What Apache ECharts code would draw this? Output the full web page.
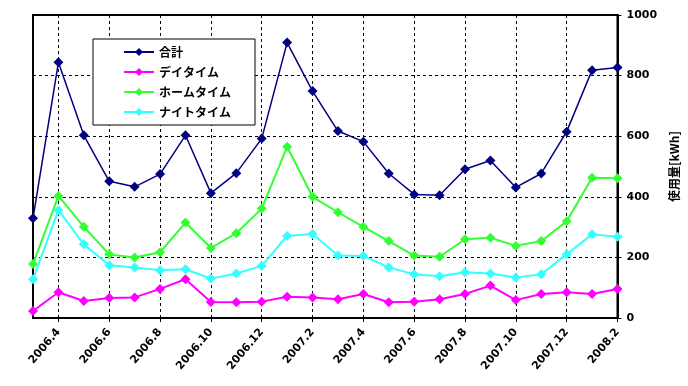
<!DOCTYPE html>
<html><head><meta charset="utf-8">
<script src="https://cdn.jsdelivr.net/npm/echarts@6/dist/echarts.min.js"></script>
<style>html,body{margin:0;padding:0;background:#fff}#c{width:688px;height:386px}</style>
</head><body><div id="c"></div>
<script>
var months = ['2006.3','2006.4','2006.5','2006.6','2006.7','2006.8','2006.9','2006.10','2006.11','2006.12','2007.1','2007.2','2007.3','2007.4','2007.5','2007.6','2007.7','2007.8','2007.9','2007.10','2007.11','2007.12','2008.1','2008.2'];
var total = [329,844,603,451,433,475,603,412,478,592,909,749,617,582,477,408,405,491,520,431,477,615,818,827];
var daytime = [23,85,56,66,68,96,128,53,52,54,70,68,62,79,52,54,62,79,107,59,79,85,79,96];
var hometime = [178,403,301,210,200,217,315,231,280,361,565,400,349,301,254,206,202,260,265,238,254,319,463,461];
var nighttime = [128,356,243,174,167,158,161,130,147,172,271,277,206,205,167,144,138,151,147,134,144,210,276,268];
var yTicks = [0,200,400,600,800,1000];

var font = '"Noto Sans CJK JP", "DejaVu Sans", sans-serif';
var numFont = '"DejaVu Sans", sans-serif';
var odd = function (i) { return i % 2 === 1; };
function mk(name, data, color, w) {
  return {
    name: name, type: 'line', data: data, yAxisIndex: 0,
    symbol: 'diamond', symbolSize: 10, showSymbol: true,
    lineStyle: { color: color, width: w },
    itemStyle: { color: color },
    emphasis: { disabled: true }
  };
}
var chart = echarts.init(document.getElementById('c'), null, { renderer: 'canvas' });
chart.setOption({
  animation: false,
  backgroundColor: '#fff',
  grid: { left: 33, right: 63, top: 15, bottom: 68, show: true, borderColor: '#000', borderWidth: 2, backgroundColor: '#fff' },
  legend: {
    orient: 'vertical', left: 93, top: 39,
    padding: [7, 24, 7, 30], itemGap: 8, itemWidth: 30, itemHeight: 10,
    backgroundColor: '#fff', borderColor: '#000', borderWidth: 1,
    textStyle: { fontFamily: font, fontWeight: 'bold', fontSize: 12, color: '#000' },
    data: ['合計', 'デイタイム', 'ホームタイム', 'ナイトタイム']
  },
  xAxis: {
    type: 'category', data: months, boundaryGap: false,
    axisLine: { lineStyle: { color: '#000', width: 2 } },
    axisTick: { show: true, interval: odd, length: 4, lineStyle: { color: '#000' } },
    axisLabel: { interval: odd, rotate: 50, margin: 12, fontFamily: numFont, fontWeight: 'bold', fontSize: 11, color: '#000' },
    splitLine: { show: true, interval: odd, lineStyle: { color: '#000', type: [3, 3], width: 1 } }
  },
  yAxis: {
    type: 'value', position: 'right', min: yTicks[0], max: yTicks[yTicks.length - 1], interval: 200,
    name: '使用量[kWh]', nameLocation: 'middle', nameRotate: 90, nameGap: 38,
    nameTextStyle: { fontFamily: font, fontWeight: 'bold', fontSize: 12, color: '#000' },
    axisLine: { show: true, lineStyle: { color: '#000', width: 2 } },
    axisTick: { show: true, length: 4, lineStyle: { color: '#000' } },
    axisLabel: { margin: 9, fontFamily: numFont, fontWeight: 'bold', fontSize: 11, color: '#000', formatter: function (v) { return String(v); } },
    splitLine: { show: true, lineStyle: { color: '#000', type: [3, 3], width: 1 } }
  },
  series: [
    mk('合計', total, '#000080', 1.5),
    mk('デイタイム', daytime, '#FF00FF', 2),
    mk('ホームタイム', hometime, '#33FF33', 2),
    mk('ナイトタイム', nighttime, '#33FFFF', 2)
  ]
});
</script></body></html>
